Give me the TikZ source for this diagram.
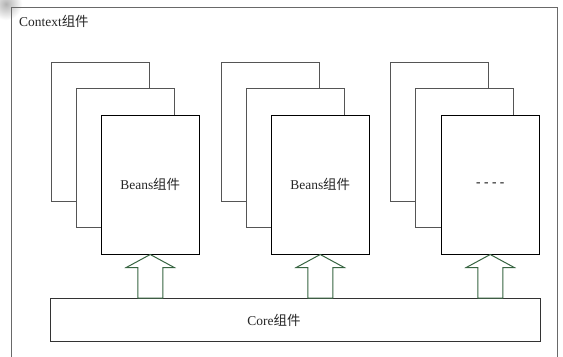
\documentclass[tikz,border=0pt]{standalone}
\usepackage{fontspec}
\setmainfont{Liberation Serif}
\newfontfamily\cjk{Noto Sans CJK SC}
\definecolor{arrowgreen}{RGB}{55,100,65}
\definecolor{framegray}{RGB}{105,105,105}
\definecolor{backgray}{RGB}{85,85,85}
\begin{document}
\begin{tikzpicture}[x=1bp,y=-1bp,
  lbl/.style={font=\fontsize{13.5}{16}\selectfont, inner sep=0pt, text=black!85},
  card/.style={draw=backgray, fill=white, line width=1bp, minimum width=97.5bp, minimum height=138.5bp, anchor=north west, inner sep=0pt},
  frontcard/.style={card, draw=black},
  corebox/.style={draw=black!80, fill=white, line width=1bp, minimum width=490bp, minimum height=43bp, anchor=north west, inner sep=0pt},
  barrow/.style={draw=arrowgreen, fill=white, line width=1bp, line join=miter}]
\useasboundingbox (0,0) rectangle (563,356);
\clip (0,0) rectangle (563,356);
\fill[white] (0,0) rectangle (563,356);
\shade[inner color=black!30, outer color=white] (6,4) circle (16);
% outer frame
\draw[framegray, line width=1bp] (11,370) -- (11,7) -- (557,7) -- (557,370);
\node[lbl, anchor=west] (ctx) at (19,21) {Context{\cjk 组件}};
% group 1
\node[card] (a1) at (51,62) {};
\node[card] (a2) at (76,88) {};
\node[frontcard] (a3) at (101,115) {};
\node[lbl] (t1) at (a3.center) {Beans{\cjk 组件}};
% group 2
\node[card] (b1) at (221,62) {};
\node[card] (b2) at (246,88) {};
\node[frontcard] (b3) at (271,115) {};
\node[lbl] (t2) at (b3.center) {Beans{\cjk 组件}};
% group 3
\node[card] (c1) at (390,62) {};
\node[card] (c2) at (415,88) {};
\node[frontcard] (c3) at (441,115) {};
\node[lbl, font=\fontsize{13.5}{16}\selectfont\bfseries] (t3) at (c3.center) {-\kern3.5bp-\kern3.5bp-\kern3.5bp-};
% core
\node[corebox] (core) at (50,298) {};
\node[lbl] (tcore) at (274,320) {Core{\cjk 组件}};
% block arrows
\foreach \n in {a3,b3,c3}{
  \draw[barrow] (\n.south) -- ++(24,13) -- ++(-11.5,0) -- ++(0,30.5) -- ++(-25,0) -- ++(0,-30.5) -- ++(-11.5,0) -- cycle;
}
\end{tikzpicture}
\end{document}
